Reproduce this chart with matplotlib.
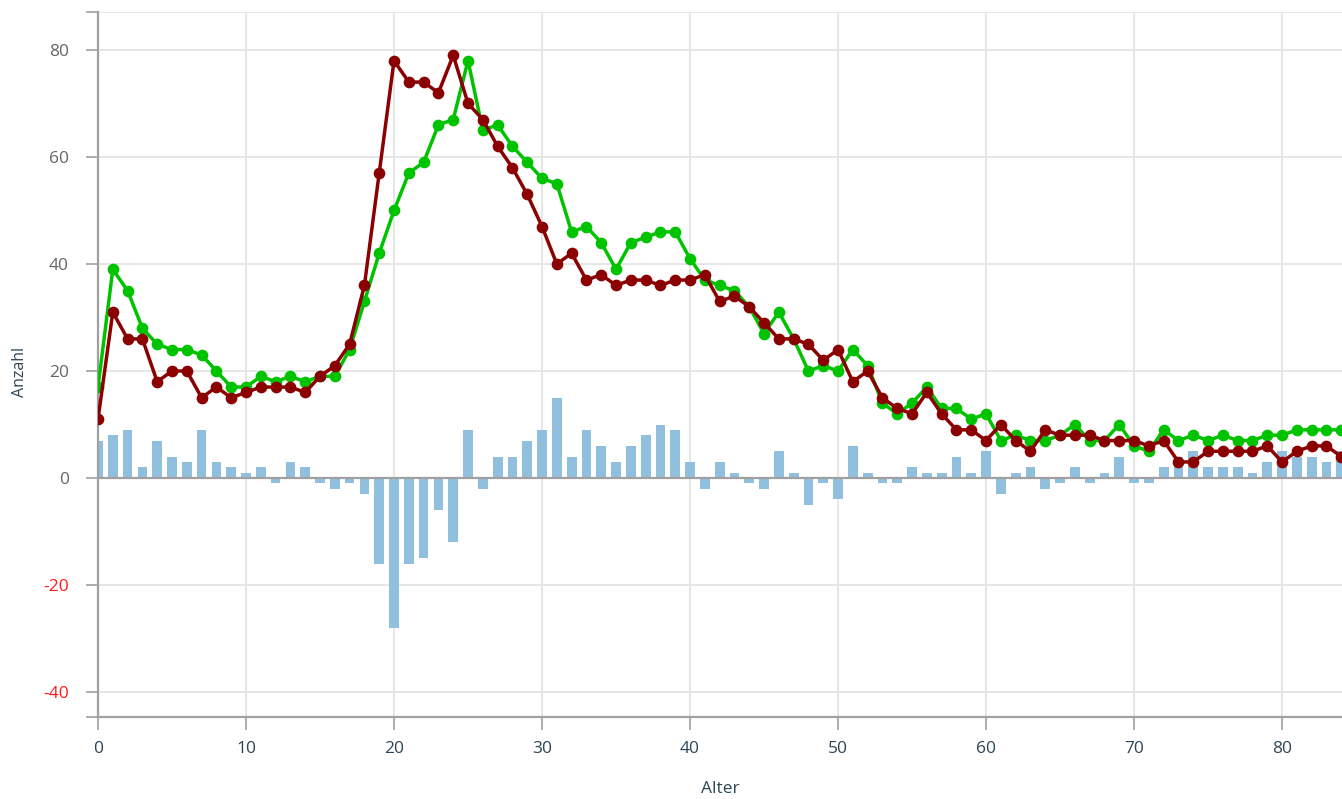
import matplotlib
matplotlib.use("Agg")
import matplotlib.pyplot as plt

plt.rcParams['font.family'] = ['Open Sans', 'DejaVu Sans']

ages = list(range(0, 85))

green_values = [17, 39, 35, 28, 25, 24, 24, 23, 20, 17,
                17, 19, 18, 19, 18, 19, 19, 24, 33, 42,
                50, 57, 59, 66, 67, 78, 65, 66, 62, 59,
                56, 55, 46, 47, 44, 39, 44, 45, 46, 46,
                41, 37, 36, 35, 32, 27, 31, 26, 20, 21,
                20, 24, 21, 14, 12, 14, 17, 13, 13, 11,
                12, 7, 8, 7, 7, 8, 10, 7, 7, 10,
                6, 5, 9, 7, 8, 7, 8, 7, 7, 8,
                8, 9, 9, 9, 9]

red_values = [11, 31, 26, 26, 18, 20, 20, 15, 17, 15,
              16, 17, 17, 17, 16, 19, 21, 25, 36, 57,
              78, 74, 74, 72, 79, 70, 67, 62, 58, 53,
              47, 40, 42, 37, 38, 36, 37, 37, 36, 37,
              37, 38, 33, 34, 32, 29, 26, 26, 25, 22,
              24, 18, 20, 15, 13, 12, 16, 12, 9, 9,
              7, 10, 7, 5, 9, 8, 8, 8, 7, 7,
              7, 6, 7, 3, 3, 5, 5, 5, 5, 6,
              3, 5, 6, 6, 4]

diff_values = [7, 8, 9, 2, 7, 4, 3, 9, 3, 2,
               1, 2, -1, 3, 2, -1, -2, -1, -3, -16,
               -28, -16, -15, -6, -12, 9, -2, 4, 4, 7,
               9, 15, 4, 9, 6, 3, 6, 8, 10, 9,
               3, -2, 3, 1, -1, -2, 5, 1, -5, -1,
               -4, 6, 1, -1, -1, 2, 1, 1, 4, 1,
               5, -3, 1, 2, -2, -1, 2, -1, 1, 4,
               -1, -1, 2, 4, 5, 2, 2, 2, 1, 3,
               5, 4, 4, 3, 5]

x_ticks = [0, 10, 20, 30, 40, 50, 60, 70, 80]
y_ticks = [-40, -20, 0, 20, 40, 60, 80]
x_label = "Alter"
y_label = "Anzahl"

W, H = 1342, 799
fig = plt.figure(figsize=(W / 100, H / 100), dpi=100)
left_px, right_px, top_px, bottom_px = 98, 1342, 12, 717
ax = fig.add_axes([left_px / W, 1 - bottom_px / H,
                   (right_px - left_px) / W, (bottom_px - top_px) / H])

ax.set_xlim(0, 84.05)
ax.set_ylim(-44.67, 87.1)

grid_c = '#e6e6e6'
axis_c = '#a0a0a0'

for gx in x_ticks[1:]:
    ax.axvline(gx, color=grid_c, lw=1.4, zorder=0)
for gy in y_ticks + [87.1]:
    if gy != 0:
        ax.axhline(gy, color=grid_c, lw=1.4, zorder=0)

ax.bar(ages, diff_values, width=0.66, color='#91bfde', zorder=2, linewidth=0)
ax.axhline(0, color=axis_c, lw=1.6, zorder=3)

ax.plot(ages, green_values, color='#00c300', lw=2.5, marker='o', markersize=7.4,
        zorder=4, solid_joinstyle='round')
ax.plot(ages, red_values, color='#8b0000', lw=2.5, marker='o', markersize=7.4,
        zorder=5, solid_joinstyle='round')

for s in ['top', 'right']:
    ax.spines[s].set_visible(False)
ax.spines['left'].set_color(axis_c)
ax.spines['left'].set_linewidth(1.6)
ax.spines['bottom'].set_color(axis_c)
ax.spines['bottom'].set_linewidth(1.6)

ax.set_xticks(x_ticks)
ax.set_xticklabels([str(v) for v in x_ticks])
ax.tick_params(axis='x', length=9, width=1.2, color=axis_c, pad=8,
               labelsize=12.5, labelcolor='#2d4656')

ylabels_all = [-44.67] + y_ticks + [87.1]
ax.set_yticks(ylabels_all)
ax.set_yticklabels([''] + [str(v) for v in y_ticks] + [''])
ax.tick_params(axis='y', length=9, width=1.2, color=axis_c, pad=12,
               labelsize=12.5, labelcolor='#666666')
for lab, v in zip(ax.get_yticklabels(), ylabels_all):
    if v < 0:
        lab.set_color('#ff1a1a')

ax.set_xlabel(x_label, fontsize=12.5, color='#2d4656', va='center')
ax.xaxis.set_label_coords(0.5, -0.102)
ax.set_ylabel(y_label, fontsize=11.5, color='#2d4656', va='center')
ax.yaxis.set_label_coords(-0.0627, 0.49)

fig.savefig('out.png', dpi=100)
